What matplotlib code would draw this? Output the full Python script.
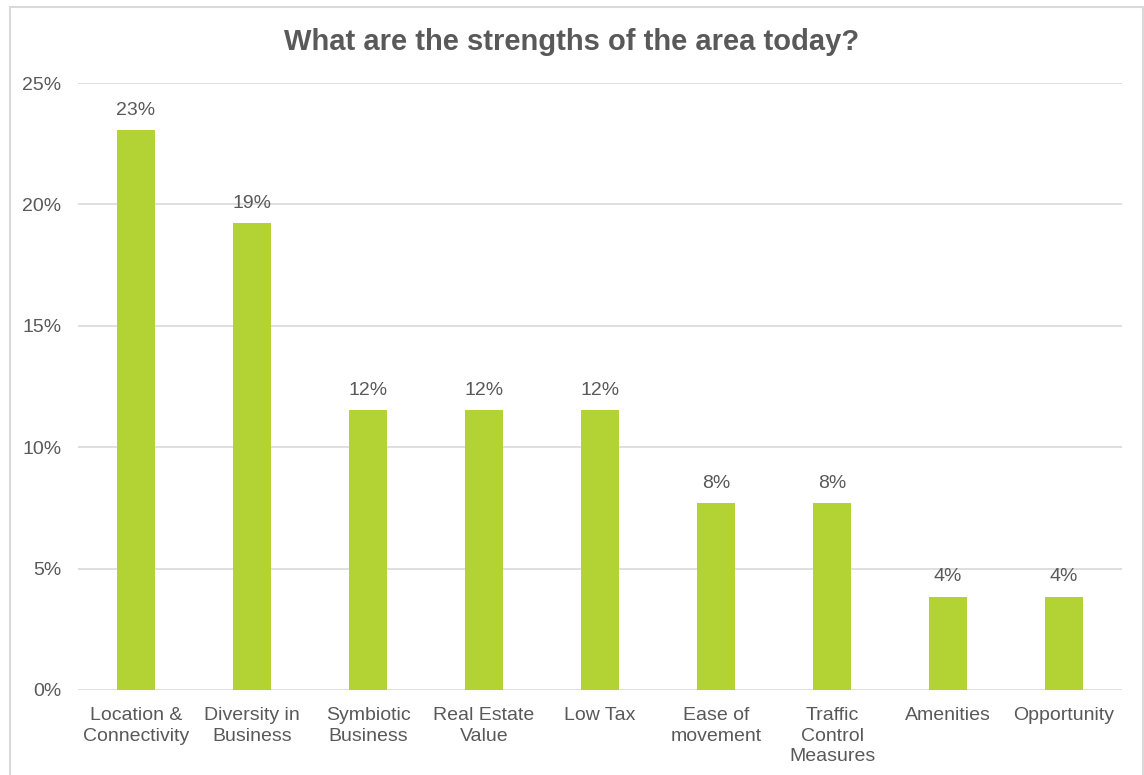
import matplotlib
matplotlib.use("Agg")
import matplotlib.pyplot as plt
from matplotlib.patches import Rectangle
from matplotlib.ticker import PercentFormatter

# survey responses: number of mentions per strength (26 in total)
categories = ["Location &\nConnectivity", "Diversity in\nBusiness", "Symbiotic\nBusiness",
              "Real Estate\nValue", "Low Tax", "Ease of\nmovement",
              "Traffic\nControl\nMeasures", "Amenities", "Opportunity"]
counts = [6, 5, 3, 3, 3, 2, 2, 1, 1]
total = sum(counts)
shares = [c / total for c in counts]

bar_color = "#b3d335"
text_color = "#595959"
grid_color = "#d9d9d9"

plt.rcParams["font.family"] = ["Liberation Sans", "DejaVu Sans"]

fig = plt.figure(figsize=(11.44, 7.75), dpi=100)
ax = fig.add_axes([0.0682, 0.1097, 0.9126, 0.7832])

# outer chart frame
fig.patches.append(Rectangle((0.0087, -0.02), 0.99, 1.011, transform=fig.transFigure,
                             fill=False, edgecolor=grid_color, linewidth=1.5))

x = range(len(categories))
bars = ax.bar(x, shares, width=0.33, color=bar_color, zorder=3)

for b, v in zip(bars, shares):
    ax.annotate(f"{v:.0%}", (b.get_x() + b.get_width() / 2, v),
                xytext=(0, 8), textcoords="offset points",
                ha="center", va="bottom", fontsize=14, color=text_color)

ax.set_xlim(-0.5, len(categories) - 0.5)
ax.set_ylim(0, 0.25)
ax.set_yticks([0, 0.05, 0.10, 0.15, 0.20, 0.25])
ax.yaxis.set_major_formatter(PercentFormatter(1.0, decimals=0))
ax.set_xticks(list(x))
ax.set_xticklabels(categories, linespacing=1.3)

ax.tick_params(axis="both", length=0, labelsize=14, labelcolor=text_color)
ax.tick_params(axis="y", pad=12)
ax.tick_params(axis="x", pad=12)
ax.grid(axis="y", color=grid_color, linewidth=1.2, zorder=0)
for s in ax.spines.values():
    s.set_visible(False)

fig.text(0.5, 0.946, "What are the strengths of the area today?", ha="center", va="center",
         fontsize=21, fontweight="bold", color=text_color)

fig.savefig("out.png", dpi=100, facecolor="white")
